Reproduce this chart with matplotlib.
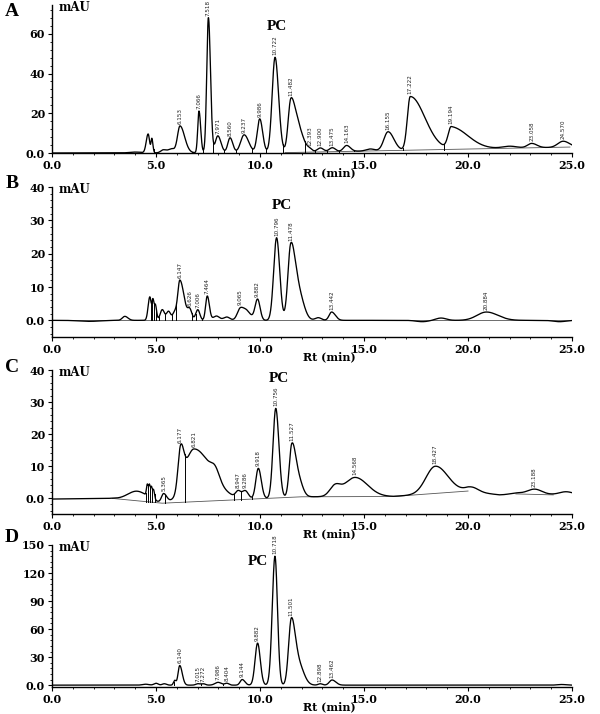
import numpy as np
import matplotlib
matplotlib.use("Agg")
import matplotlib.pyplot as plt
from matplotlib.ticker import MultipleLocator

# ---- panel A : peaks (retention time, height, left / right width) ----
a_rt = [4.00, 4.62, 4.80, 5.35, 5.75, 6.153, 7.066, 7.518, 7.971, 8.560, 9.237,
        9.986, 10.722, 11.482, 11.85, 12.393, 12.900, 13.475, 14.163, 15.30,
        16.155, 17.222, 19.194, 22.00, 23.058, 24.570]
a_height = [0.4, 9.5, 7.0, 1.5, 2.0, 13.5, 21.0, 68.0, 8.5, 7.5, 9.0,
            17.0, 48.0, 26.0, 11.0, 1.2, 2.0, 2.0, 3.0, 1.0,
            9.5, 27.0, 11.0, 1.0, 2.2, 3.0]
a_sig_l = [0.25, 0.09, 0.04, 0.12, 0.15, 0.12, 0.06, 0.08, 0.12, 0.11, 0.17,
           0.12, 0.14, 0.13, 0.18, 0.12, 0.15, 0.15, 0.15, 0.2,
           0.2, 0.14, 0.15, 0.35, 0.2, 0.25]
a_sig_r = [0.25, 0.07, 0.05, 0.15, 0.15, 0.22, 0.08, 0.10, 0.15, 0.13, 0.22,
           0.14, 0.17, 0.2, 0.25, 0.12, 0.15, 0.15, 0.18, 0.2,
           0.28, 0.7, 0.8, 0.35, 0.25, 0.3]
a_labels = ["6.153", "7.066", "7.518", "7.971", "8.560", "9.237", "9.986",
            "10.722", "11.482", "12.393", "12.900", "13.475", "14.163",
            "16.155", "17.222", "19.194", "23.058", "24.570"]
a_drops = [4.88, 5.0, 6.75, 7.28, 7.76, 8.28, 8.85, 9.6, 10.3, 11.1, 12.15,
           12.65, 13.2, 13.8, 14.5, 16.85, 18.85]
a_base_x = [0.0, 11.2, 24.9]
a_base_y = [0.0, 0.2, 3.0]

# ---- panel B ----
b_rt = [1.80, 3.50, 4.70, 4.85, 4.97, 5.30, 5.60, 5.90, 6.147, 6.626, 7.006,
        7.464, 7.90, 8.40, 9.065, 9.40, 9.882, 10.796, 11.478, 11.85, 12.80,
        13.442, 17.80, 18.70, 20.884, 24.40]
b_height = [-0.3, 1.2, 7.0, 6.0, 4.5, 3.2, 2.7, 2.4, 12.0, 3.0, 3.2,
            7.3, 1.3, 1.0, 3.7, 2.0, 6.3, 24.8, 21.8, 8.0, 0.8,
            2.5, -0.4, 0.7, 2.5, -0.4]
b_sig_l = [0.5, 0.12, 0.08, 0.05, 0.05, 0.1, 0.1, 0.1, 0.1, 0.1, 0.1,
           0.08, 0.15, 0.15, 0.15, 0.15, 0.12, 0.14, 0.14, 0.2, 0.15,
           0.12, 0.3, 0.25, 0.45, 0.3]
b_sig_r = [0.5, 0.15, 0.06, 0.05, 0.06, 0.1, 0.1, 0.1, 0.2, 0.1, 0.1,
           0.1, 0.15, 0.15, 0.2, 0.2, 0.12, 0.15, 0.2, 0.25, 0.15,
           0.18, 0.3, 0.25, 0.55, 0.3]
b_labels = ["6.147", "6.626", "7.006", "7.464", "9.065", "9.882", "10.796",
            "11.478", "13.442", "20.884"]
b_drops = [4.76, 4.82, 4.9, 5.02, 5.15, 5.45, 5.75, 5.98, 6.72, 6.9, 7.2]
b_base_x = [0.0, 25.0]
b_base_y = [0.0, 0.0]

# ---- panel C ----
c_rt = [4.10, 4.58, 4.68, 4.78, 4.88, 5.365, 6.177, 6.821, 7.85, 8.947, 9.286,
        9.918, 10.756, 11.527, 11.85, 13.60, 14.568, 18.427, 20.20, 22.30,
        23.188, 24.70]
c_height = [3.0, 3.5, 3.8, 3.5, 3.0, 2.8, 12.0, 16.5, 3.0, 2.0, 2.5,
            9.5, 28.0, 15.5, 5.0, 3.0, 6.0, 8.5, 1.3, 0.5,
            1.7, 0.8]
c_sig_l = [0.45, 0.04, 0.04, 0.04, 0.04, 0.1, 0.12, 0.45, 0.2, 0.12, 0.15,
           0.12, 0.13, 0.12, 0.2, 0.25, 0.5, 0.45, 0.3, 0.3,
           0.35, 0.3]
c_sig_r = [0.5, 0.04, 0.04, 0.04, 0.05, 0.15, 0.15, 0.85, 0.2, 0.12, 0.15,
           0.14, 0.15, 0.18, 0.2, 0.25, 0.6, 0.6, 0.3, 0.3,
           0.35, 0.3]
c_labels = ["5.365", "6.177", "6.821", "8.947", "9.286", "9.918", "10.756",
            "11.527", "14.568", "18.427", "23.188"]
c_drops = [4.5, 4.63, 4.73, 4.83, 4.93, 5.45, 6.38, 8.75, 9.1, 9.6]
c_bg_x = [0.0, 2.9, 5.3, 12.0, 16.4, 20.0, 21.5, 25.0]
c_bg_y = [-0.3, -0.1, -1.6, 0.4, 0.5, 2.2, 1.0, 1.2]
c_base_x = [2.9, 5.3, 12.0, 16.4, 20.0]
c_base_y = [-0.1, -1.6, 0.4, 0.5, 2.2]
c_base2_x = [22.3, 24.1]
c_base2_y = [1.3, 1.0]

# ---- panel D ----
d_rt = [4.5, 5.0, 5.4, 5.9, 6.140, 7.015, 7.272, 7.986, 8.404, 9.144, 9.882,
        10.718, 11.501, 11.85, 12.898, 13.462, 24.5]
d_height = [1.0, 2.0, 1.5, 5.0, 21.0, 1.5, 1.5, 3.0, 2.0, 6.0, 45.0,
            138.0, 67.0, 22.0, 1.5, 5.5, 0.7]
d_sig_l = [0.15, 0.1, 0.1, 0.06, 0.08, 0.1, 0.1, 0.15, 0.1, 0.1, 0.12,
           0.13, 0.13, 0.2, 0.1, 0.13, 0.2]
d_sig_r = [0.15, 0.1, 0.1, 0.06, 0.12, 0.1, 0.1, 0.15, 0.1, 0.13, 0.13,
           0.12, 0.18, 0.25, 0.1, 0.18, 0.2]
d_labels = ["6.140", "7.015", "7.272", "7.986", "8.404", "9.144", "9.882",
            "10.718", "11.501", "12.898", "13.462"]
d_drops = [5.85, 6.6, 7.15, 7.6, 8.2, 8.75, 12.6, 13.15]


def signal(t, rts, hs, sl, sr, bgx=None, bgy=None):
    t = np.asarray(t, dtype=float)
    y = np.zeros_like(t)
    for r, h, a, b in zip(rts, hs, sl, sr):
        s = np.where(t < r, a, b)
        y += h * np.exp(-0.5 * ((t - r) / s) ** 2)
    if bgx is not None:
        y += np.interp(t, bgx, bgy)
    return y


panels = [
    dict(letter="A", rect=[0.0867, 0.7857, 0.8667, 0.2073], ylim=(0, 74.5),
         yticks=[0, 20, 40, 60], ymin=4,
         peaks=(a_rt, a_height, a_sig_l, a_sig_r), bg=(a_base_x, a_base_y),
         labels=a_labels, drops=a_drops,
         bases=[(a_base_x[1:], a_base_y[1:])], pc=(10.82, 63.5), ly=12),
    dict(letter="B", rect=[0.0867, 0.5280, 0.8667, 0.2100], ylim=(-5, 40),
         yticks=[0, 10, 20, 30, 40], ymin=2,
         peaks=(b_rt, b_height, b_sig_l, b_sig_r), bg=None,
         labels=b_labels, drops=b_drops,
         bases=[(b_base_x, b_base_y)], pc=(11.06, 34.5), ly=183),
    dict(letter="C", rect=[0.0867, 0.2800, 0.8667, 0.2017], ylim=(-5, 40),
         yticks=[0, 10, 20, 30, 40], ymin=2,
         peaks=(c_rt, c_height, c_sig_l, c_sig_r), bg=(c_bg_x, c_bg_y),
         labels=c_labels, drops=c_drops,
         bases=[(c_base_x, c_base_y), (c_base2_x, c_base2_y)], pc=(10.9, 37.3), ly=368),
    dict(letter="D", rect=[0.0867, 0.0378, 0.8667, 0.1989], ylim=(-2, 150),
         yticks=[0, 30, 60, 90, 120, 150], ymin=6,
         peaks=(d_rt, d_height, d_sig_l, d_sig_r), bg=None,
         labels=d_labels, drops=d_drops,
         bases=[], pc=(9.9, 132.0), ly=538),
]

plt.rcParams["font.family"] = "DejaVu Serif"
fig = plt.figure(figsize=(6.0, 7.14), dpi=100)
t = np.linspace(0, 25, 5001)

for p in panels:
    ax = fig.add_axes(p["rect"])
    bgx, bgy = p["bg"] if p["bg"] else (None, None)
    y = signal(t, *p["peaks"], bgx, bgy)

    for bx, by in p["bases"]:
        ax.plot(bx, by, color="#555555", lw=0.6)
    for xd in p["drops"]:
        top = signal([xd], *p["peaks"], bgx, bgy)[0]
        bot = np.interp(xd, bgx, bgy) if bgx is not None else 0.0
        ax.plot([xd, xd], [bot, top], color="black", lw=0.7)
    ax.plot(t, y, color="black", lw=0.95)

    for lbl in p["labels"]:
        x0 = float(lbl)
        y0 = signal([x0], *p["peaks"], bgx, bgy)[0]
        ax.annotate(lbl, xy=(x0, y0), xytext=(0, 1.5), textcoords="offset points",
                    rotation=90, ha="center", va="bottom", fontsize=4.5,
                    family="DejaVu Sans", fontstretch="condensed", color="#222222")

    ax.set_xlim(0, 25)
    ax.set_ylim(*p["ylim"])
    for s in ["top", "right"]:
        ax.spines[s].set_visible(False)
    for s in ["left", "bottom"]:
        ax.spines[s].set_linewidth(1.0)
    ax.set_xticks([0, 5, 10, 15, 20, 25])
    ax.set_xticklabels(["0.0", "5.0", "10.0", "15.0", "20.0", "25.0"])
    ax.set_yticks(p["yticks"])
    ax.set_yticklabels(["0.0"] + [str(v) for v in p["yticks"][1:]])
    ax.xaxis.set_minor_locator(MultipleLocator(1))
    ax.yaxis.set_minor_locator(MultipleLocator(p["ymin"]))
    ax.tick_params(which="major", direction="out", length=3, width=0.8,
                   labelsize=8, pad=2)
    ax.tick_params(which="minor", direction="out", length=1.5, width=0.6)
    for tl in ax.get_xticklabels() + ax.get_yticklabels():
        tl.set_fontweight("bold")

    ax.text(0.012, 0.985, "mAU", transform=ax.transAxes, ha="left", va="center",
            fontsize=8.5, fontweight="bold")
    ax.text(p["pc"][0], p["pc"][1], "PC", ha="center", va="center",
            fontsize=11, fontweight="bold", family="Liberation Serif")
    ax.annotate("Rt (min)", xy=(0.54, 0), xycoords="axes fraction",
                xytext=(-4, -20), textcoords="offset pixels",
                ha="center", va="center", fontsize=8, fontweight="bold")
    fig.text(12 / 600, 1 - p["ly"] / 714, p["letter"], ha="center", va="center",
             fontsize=14, fontweight="bold", family="Liberation Serif")

fig.savefig("out.png", dpi=100)
